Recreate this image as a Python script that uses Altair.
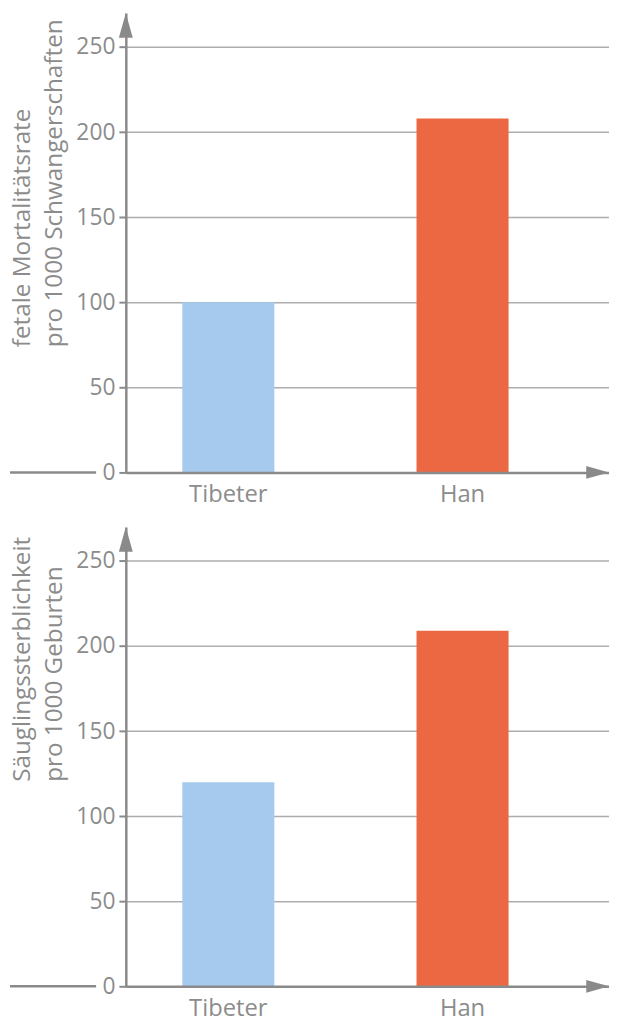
import altair as alt
import pandas as pd

groups = ["Tibeter", "Han"]
fetal = [100, 208]
infant = [120, 209]
y_ticks = [0, 50, 100, 150, 200, 250]
bar_colors = ["#a6caed", "#ec6843"]
titles = [
    ["fetale Mortalitätsrate", "pro 1000 Schwangerschaften"],
    ["Säuglingssterblichkeit", "pro 1000 Geburten"],
]

W = 488
H = 464
YMAX = 270
AX = "#8a8a8a"
TXT = "#8c8c8c"
FONT = "Open Sans"


def panel(values, title, title_y):
    df = pd.DataFrame({"group": groups, "value": values})
    bars = alt.Chart(df).mark_bar().encode(
        x=alt.X(
            "group:N",
            sort=groups,
            scale=alt.Scale(paddingInner=0.607, paddingOuter=0.335, align=0.36),
            axis=alt.Axis(
                title=None, labelAngle=0, ticks=False, tickSize=0, labelPadding=10,
                domainWidth=2.5, domainColor=AX, grid=False, labelFontSize=24,
                labelColor=TXT, labelFont=FONT, zindex=1,
            ),
        ),
        y=alt.Y(
            "value:Q",
            scale=alt.Scale(domain=[0, YMAX], nice=False),
            axis=alt.Axis(
                values=y_ticks, title=title, titleAngle=270, titleAlign="left",
                titleBaseline="alphabetic", titleX=-97, titleY=title_y,
                titleFontSize=24.5, titleFontWeight="normal", titleColor=TXT,
                titleFont=FONT, titleLineHeight=32,
                domainWidth=2.5, domainColor=AX, tickSize=7, tickWidth=2,
                tickColor=AX, labelPadding=4, labelFontSize=23, labelColor=TXT,
                labelFont=FONT, grid=True, gridColor="#adadad", gridWidth=1.5,
            ),
        ),
        color=alt.Color("group:N", scale=alt.Scale(domain=groups, range=bar_colors), legend=None),
    )
    one = alt.Chart(pd.DataFrame({"k": [0]}))
    up_arrow = one.mark_point(
        shape="M-0.56,1L0,-1L0.56,1Z", filled=True, color=AX, opacity=1, size=625
    ).encode(x=alt.value(0), y=alt.value(12.5))
    right_arrow = one.mark_point(
        shape="M-1,-0.565L1,0L-1,0.565Z", filled=True, color=AX, opacity=1, size=529
    ).encode(x=alt.value(W - 11.5), y=alt.value(H))
    left_line = one.mark_rule(color=AX, strokeWidth=2.5).encode(
        x=alt.value(-117), x2=alt.value(-30), y=alt.value(H)
    )
    return alt.layer(bars, up_arrow, right_arrow, left_line).properties(width=W, height=H)


chart = alt.vconcat(
    panel(fetal, titles[0], 337),
    panel(infant, titles[1], 257),
    spacing=21,
).properties(padding=0).configure_view(stroke=None)

chart.save("out.html", embed_options={"renderer": "svg", "actions": False})
